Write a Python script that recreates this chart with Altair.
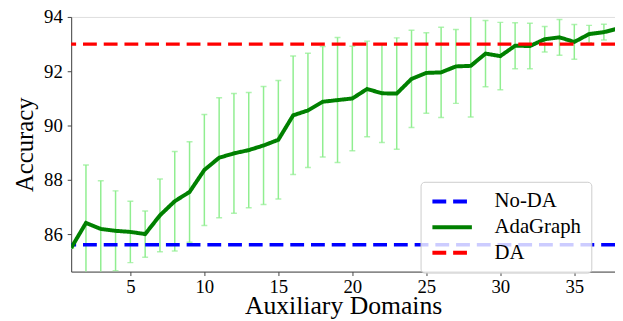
import altair as alt
import pandas as pd

# ---- data ----
domains = list(range(1, 39))
adagraph = [85.50, 86.42, 86.20, 86.13, 86.09, 86.01, 86.70, 87.22, 87.56, 88.37,
            88.82, 88.98, 89.10, 89.27, 89.48, 90.38, 90.56, 90.88, 90.94, 91.00,
            91.35, 91.19, 91.18, 91.72, 91.94, 91.96, 92.18, 92.20, 92.65, 92.56,
            92.94, 92.93, 93.18, 93.25, 93.08, 93.37, 93.44, 93.58]
adagraph_err = [0.0, 2.13, 1.77, 1.47, 1.13, 0.85, 1.34, 1.83, 1.85, 2.04,
                2.21, 2.20, 2.12, 2.17, 2.18, 2.18, 2.10, 2.03, 2.30, 1.92,
                1.76, 1.81, 2.05, 1.79, 1.48, 1.66, 1.36, 1.88, 1.22, 1.24,
                0.85, 0.84, 0.47, 0.66, 0.64, 0.32, 0.29, 0.30]
no_da_value = 85.62
da_value = 93.0
series_names = ["No-DA", "AdaGraph", "DA"]
series_colors = ["#0000ff", "#008000", "#ff0000"]
x_ticks = [5, 10, 15, 20, 25, 30, 35]
y_ticks = [86, 88, 90, 92, 94]

df = pd.DataFrame({
    "x": domains,
    "y": adagraph,
    "lo": [m - e for m, e in zip(adagraph, adagraph_err)],
    "hi": [m + e for m, e in zip(adagraph, adagraph_err)],
    "series": ["AdaGraph"] * len(domains),
})
ref = pd.DataFrame({"series": ["No-DA", "DA"], "y": [no_da_value, da_value]})

FONT = "Liberation Serif"

xscale = alt.Scale(domain=[1, 37.75], nice=False, zero=False)
yscale = alt.Scale(domain=[84.63, 94], nice=False, zero=False)

legend = alt.Legend(
    orient="none", legendX=354, legendY=167,
    padding=10, fillColor="rgba(255,255,255,0.8)", strokeColor="#cccccc",
    cornerRadius=4, symbolType="stroke", symbolSize=1600, symbolStrokeWidth=4,
    clipHeight=20, rowPadding=5,
    labelFont=FONT, labelFontSize=21, labelOffset=21, labelColor="#000000",
)

color = alt.Color("series:N", title=None, legend=legend,
                  scale=alt.Scale(domain=series_names, range=series_colors))
dash = alt.StrokeDash("series:N", title=None, legend=legend,
                      scale=alt.Scale(domain=series_names,
                                      range=[[14, 7], [1, 0], [14, 7]]))

xaxis = alt.Axis(values=x_ticks, title="Auxiliary Domains", grid=False,
                 labelFont=FONT, labelFontSize=19, labelColor="#000000", labelPadding=2,
                 titleFont=FONT, titleFontSize=26, titleFontWeight="normal",
                 titleColor="#000000", titleY=42, titleBaseline="alphabetic",
                 domainColor="#444444", tickColor="#444444", tickSize=4)
yaxis = alt.Axis(values=y_ticks, title="Accuracy", grid=False,
                 labelFont=FONT, labelFontSize=19, labelColor="#000000", labelPadding=5,
                 titleFont=FONT, titleFontSize=25, titleFontWeight="normal",
                 titleColor="#000000", titlePadding=6,
                 domainColor="#444444", tickColor="#444444", tickSize=4)

xenc = alt.X("x:Q", scale=xscale, axis=xaxis)
yenc = alt.Y("y:Q", scale=yscale, axis=yaxis)

base = alt.Chart(df)

err = base.mark_rule(color="#90ee90", strokeWidth=1.5, clip=True).encode(
    x=xenc, y=alt.Y("lo:Q", scale=yscale), y2="hi:Q")
cap_lo = base.mark_tick(color="#90ee90", thickness=1.5, size=6, orient="horizontal",
                        clip=True).encode(x="x:Q", y=alt.Y("lo:Q", scale=yscale))
cap_hi = base.mark_tick(color="#90ee90", thickness=1.5, size=6, orient="horizontal",
                        clip=True).encode(x="x:Q", y=alt.Y("hi:Q", scale=yscale))

no_da = alt.Chart(ref).transform_filter(alt.datum.series == "No-DA").mark_rule(
    strokeWidth=3.5).encode(y=yenc, color=color, strokeDash=dash)
line = base.mark_line(strokeWidth=4, clip=True).encode(
    x=xenc, y=yenc, color=color, strokeDash=dash)
da = alt.Chart(ref).transform_filter(alt.datum.series == "DA").mark_rule(
    strokeWidth=3.5).encode(y=yenc, color=color, strokeDash=dash)

chart = alt.layer(err, cap_lo, cap_hi, no_da, line, da).properties(
    width=551, height=258,
    autosize=alt.AutoSizeParams(type="none"),
    padding={"left": 64, "top": 7, "right": 0, "bottom": 48},
).configure_view(
    stroke="#222222", strokeWidth=1
).configure(
    font=FONT
)

chart.save("out.html", embed_options={"renderer": "svg", "actions": False})
